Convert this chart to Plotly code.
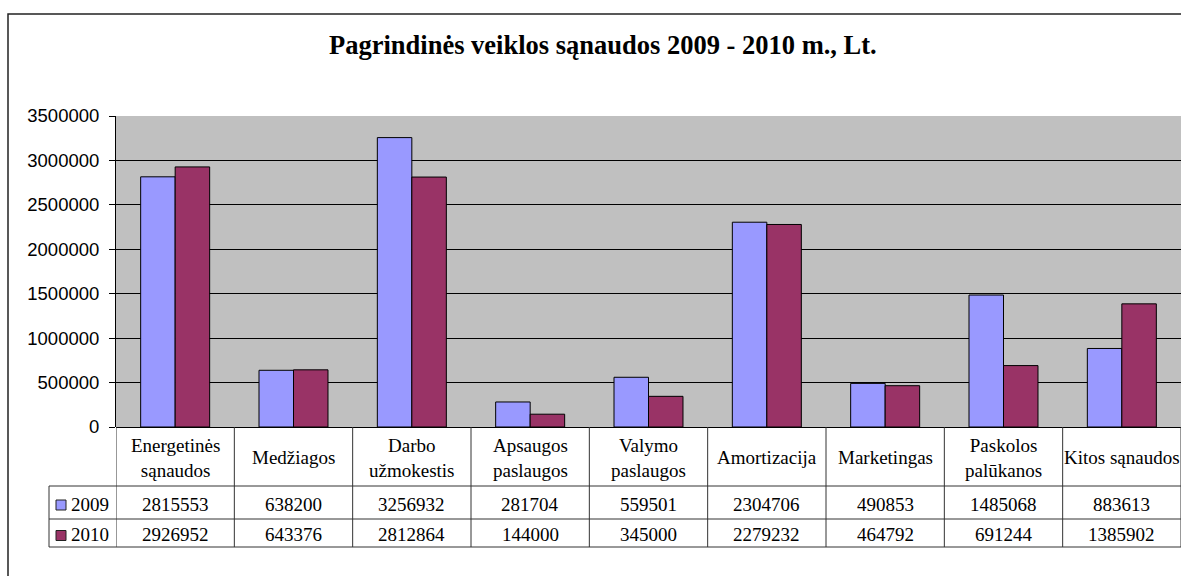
import plotly.graph_objects as go

title_text = "Pagrindinės veiklos sąnaudos 2009 - 2010 m., Lt."
categories = ["Energetinės<br>sąnaudos", "Medžiagos", "Darbo<br>užmokestis",
              "Apsaugos<br>paslaugos", "Valymo<br>paslaugos", "Amortizacija",
              "Marketingas", "Paskolos<br>palūkanos", "Kitos sąnaudos"]
series_names = ["2009", "2010"]
values_2009 = [2815553, 638200, 3256932, 281704, 559501, 2304706, 490853, 1485068, 883613]
values_2010 = [2926952, 643376, 2812864, 144000, 345000, 2279232, 464792, 691244, 1385902]
y_ticks = [0, 500000, 1000000, 1500000, 2000000, 2500000, 3000000, 3500000]
colors = ["#9999FF", "#993366"]

SERIF = "Times New Roman, Liberation Serif, serif"
SANS = "Arial, Liberation Sans, sans-serif"

W, H = 1181, 576
L, R, T, B = 116, 0, 116, 149
PW, PH = W - L - R, H - T - B


def px(p):
    return (p - L) / PW


def py(p):
    return (H - B - p) / PH


xs = list(range(len(categories)))
fig = go.Figure()
for name, vals, col in zip(series_names, [values_2009, values_2010], colors):
    fig.add_trace(go.Bar(x=xs, y=vals, name=name, marker=dict(color=col, line=dict(color="black", width=1))))

shapes = []
annotations = []
n = len(categories)
# table geometry (pixels)
hdr_bot, r1_bot, r2_bot = 486, 519, 547
leg_left = 49
line_col = "#333333"
# vertical lines at category boundaries
for i in range(n + 1):
    shapes.append(dict(type="line", xref="x", yref="paper", x0=i - 0.5, x1=i - 0.5,
                       y0=0, y1=py(r2_bot), line=dict(color=line_col, width=1)))
# legend column left border
shapes.append(dict(type="line", xref="paper", yref="paper", x0=px(leg_left), x1=px(leg_left),
                   y0=py(hdr_bot), y1=py(r2_bot), line=dict(color=line_col, width=1)))
# horizontal lines
for yy in [hdr_bot, r1_bot, r2_bot]:
    shapes.append(dict(type="line", xref="paper", yref="paper", x0=px(leg_left), x1=1.0,
                       y0=py(yy), y1=py(yy), line=dict(color=line_col, width=1)))
# outer chart border
shapes.append(dict(type="rect", xref="paper", yref="paper", x0=px(8), x1=1.05,
                   y0=-0.7, y1=py(14), line=dict(color="#222222", width=1.5), layer="below"))

# header labels
for i, c in enumerate(categories):
    annotations.append(dict(x=i, y=py((427 + hdr_bot) / 2 + 1), xref="x", yref="paper",
                            text=c, showarrow=False, font=dict(family=SERIF, size=19, color="black"),
                            xanchor="center", yanchor="middle", align="center"))
# value rows + legend keys
rows = [(values_2009, hdr_bot + (r1_bot - hdr_bot) / 2),
        (values_2010, r1_bot + (r2_bot - r1_bot) / 2)]
for (vals, cy), name, col in zip(rows, series_names, colors):
    for i, v in enumerate(vals):
        annotations.append(dict(x=i, y=py(cy + 1.5), xref="x", yref="paper", text=str(v),
                                showarrow=False, font=dict(family=SERIF, size=19, color="black"),
                                xanchor="center", yanchor="middle"))
    shapes.append(dict(type="rect", xref="paper", yref="paper", x0=px(56), x1=px(66),
                       y0=py(cy + 7.5), y1=py(cy - 2.5), fillcolor=col,
                       line=dict(color="#222222", width=1)))
    annotations.append(dict(x=px(69), y=py(cy + 1.5), xref="paper", yref="paper", text=name,
                            showarrow=False, font=dict(family=SERIF, size=19, color="black"),
                            xanchor="left", yanchor="middle"))

# title
annotations.append(dict(x=px(603), y=py(45), xref="paper", yref="paper", text="<b>" + title_text + "</b>",
                        showarrow=False, font=dict(family=SERIF, size=26.5, color="black"),
                        xanchor="center", yanchor="middle"))

fig.update_layout(
    width=W, height=H,
    margin=dict(l=L, r=R, t=T, b=B, pad=0),
    paper_bgcolor="white", plot_bgcolor="#C0C0C0",
    barmode="group", bargap=0.417, bargroupgap=0,
    showlegend=False,
    shapes=shapes, annotations=annotations,
    xaxis=dict(range=[-0.5, n - 0.5], showticklabels=False, showgrid=False, zeroline=False,
               showline=False, ticks="", fixedrange=True),
    yaxis=dict(range=[0, 3500000], tickvals=y_ticks, tickformat="d",
               showgrid=True, gridcolor="black", gridwidth=1,
               zeroline=True, zerolinecolor="black", zerolinewidth=1,
               showline=True, linecolor="black", linewidth=1,
               ticks="outside", ticklen=6, tickcolor="black", ticklabelstandoff=6,
               tickfont=dict(family=SANS, size=18.5, color="black")),
)

fig.write_html("out.html", config={"displayModeBar": False},
               post_script="document.body.style.margin='0';document.body.style.padding='0';"
                           "document.body.style.overflow='hidden';")
